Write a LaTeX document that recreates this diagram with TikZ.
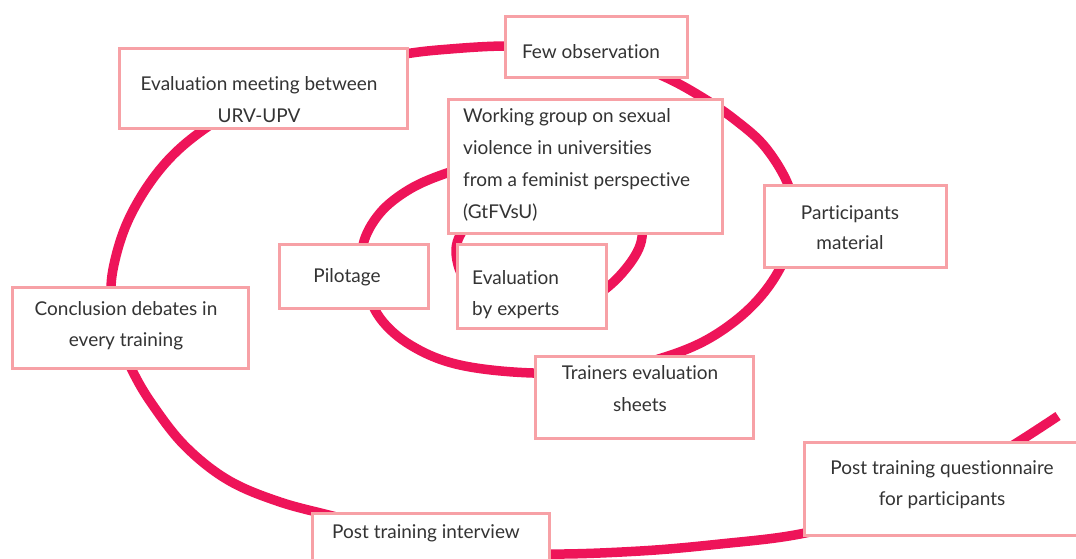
\documentclass[tikz,border=0pt]{standalone}
\usepackage{fontspec}
\setmainfont{Lato}[RawFeature={-liga;-dlig;-clig;-calt}]
\definecolor{spiral}{HTML}{EE1459}
\definecolor{boxline}{HTML}{F7A1A6}
\definecolor{ink}{HTML}{333333}
\newcommand{\Evl}{Evaluat\kern0pt ion}
\newcommand{\evl}{evaluat\kern0pt ion}
\begin{document}
\begin{tikzpicture}[x=1pt,y=-1pt,
  box/.style={draw=boxline, line width=2.5pt, fill=white, inner sep=0pt, anchor=north west},
  txt/.style={text=ink, font=\fontsize{19}{32}\selectfont, inner sep=0pt, anchor=base, align=center},
  ltxt/.style={txt, anchor=base west, align=left},
  spiralline/.style={draw=spiral, line width=9.5pt, line cap=butt}]
\useasboundingbox (0,0) rectangle (1076,558);
% spiral
\draw[spiralline] plot[smooth, tension=0.6] coordinates {
 (495,200) (466,226) (456,252) (468,284) (505,305) (555,310) (598,294) (628,266) (642,237) (635,205) (608,180) (568,164) (520,160) (480,165)
 (447,173) (410,189) (380,213) (363,245) (365,282) (380,318) (412,346) (460,365) (533,373) (610,370) (665,357) (710,338) (750,308) (778,272) (793,232)
 (790,190) (766,148) (734,119) (700,96) (665,77) (620,59) (565,48) (505,46) (450,49) (405,54)
 (345,66) (290,84) (242,106) (203,130) (172,156) (147,187) (127,223) (115,260) (111,292) (116,332) (132,370)
 (152,404) (185,446) (228,480) (280,502) (340,518) (410,538) (475,549) (548,554) (640,551) (720,544) (800,534)
 (880,513) (950,482) (1010,447) (1058,416)};
% boxes
\node[box, minimum width=182pt, minimum height=61pt] (few) at (504,15) {};
\node[txt] (fewt) at (591,58) {Few observation};
\node[box, minimum width=288pt, minimum height=80pt] (evm) at (118,47) {};
\node[txt] (evmt) at (259,122) {\Evl{} meeting between\\URV-UPV};
\node[box, minimum width=274pt, minimum height=134pt] (wg) at (447,98) {};
\node[ltxt] (wgt) at (463,218) {Working group on sexual\\violence in universities\\from a feminist perspective\\(GtFVsU)};
\node[box, minimum width=182pt, minimum height=82pt] (part) at (763,184) {};
\node[txt] (partt) at (850,249) {Participants\\[-2pt]material};
\node[box, minimum width=149pt, minimum height=64pt] (pil) at (278,243) {};
\node[txt] (pilt) at (347,282) {Pilotage};
\node[box, minimum width=149pt, minimum height=84pt] (exp) at (456,243) {};
\node[ltxt] (expt) at (472,315) {\Evl\\[-1pt]by experts};
\node[box, minimum width=236pt, minimum height=81pt] (conc) at (11,286) {};
\node[txt] (conct) at (126,346) {Conclusion debates in\\[-1pt]every training};
\node[box, minimum width=218pt, minimum height=82pt] (trn) at (534,355) {};
\node[txt] (trnt) at (640,411) {Trainers \evl\\sheets};
\node[box, minimum width=277pt, minimum height=93pt] (pq) at (803,441) {};
\node[txt] (pqt) at (942,505) {Post training questionnaire\\[-1pt]for participants};
\node[box, minimum width=237pt, minimum height=52pt] (pti) at (311,512) {};
\node[txt] (ptit) at (426,538) {Post training interview};
\end{tikzpicture}
\end{document}
